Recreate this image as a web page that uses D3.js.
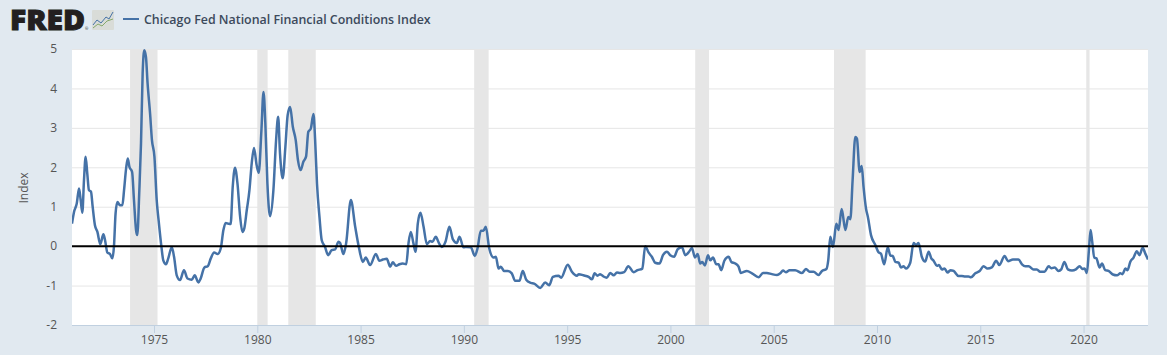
<!DOCTYPE html>
<html>
<head>
<meta charset="utf-8">
<script src="https://cdn.jsdelivr.net/npm/d3@7"></script>
<style>
  html, body { margin: 0; padding: 0; background: #e1e9f0; }
  svg { display: block; }
  text { font-family: "Open Sans", sans-serif; }
  .chart_label { font-size: 12px; fill: #555; }
</style>
</head>
<body>
<div id="chart"></div>
<script>
const seriesName = "Chicago Fed National Financial Conditions Index";
const yAxisLabel = "Index";
const yTicks = [-2, -1, 0, 1, 2, 3, 4, 5];
const xTicks = [1975, 1980, 1985, 1990, 1995, 2000, 2005, 2010, 2015, 2020];

// decimal years
const recessions = [
  [1973.84, 1975.17], [1980.0, 1980.5], [1981.5, 1982.83], [1990.5, 1991.2],
  [2001.2, 2001.87], [2007.92, 2009.45], [2020.13, 2020.29]
];

const years = [
  1971.03,1971.13,1971.26,1971.37,1971.45,1971.53,1971.61,1971.69,1971.77,1971.85,1971.95,
  1972.03,1972.14,1972.26,1972.40,1972.55,1972.63,1972.74,1972.87,1972.98,
  1973.06,1973.14,1973.23,1973.35,1973.47,1973.55,1973.65,1973.73,1973.81,1973.94,
  1974.03,1974.13,1974.19,1974.29,1974.37,1974.45,1974.53,1974.61,1974.69,1974.81,1974.90,
  1975.02,1975.13,1975.23,1975.36,1975.45,1975.58,1975.69,1975.86,1975.97,
  1976.10,1976.26,1976.45,1976.62,1976.83,1976.97,
  1977.15,1977.26,1977.44,1977.60,1977.75,1977.91,
  1978.08,1978.23,1978.36,1978.47,1978.60,1978.71,1978.81,1978.92,
  1979.04,1979.17,1979.28,1979.37,1979.49,1979.62,1979.73,1979.84,1979.97,
  1980.07,1980.20,1980.30,1980.39,1980.49,1980.62,1980.78,1980.91,
  1981.01,1981.10,1981.23,1981.36,1981.47,1981.59,1981.72,1981.86,1981.97,
  1982.10,1982.23,1982.36,1982.47,1982.59,1982.72,1982.80,1982.89,
  1983.01,1983.12,1983.28,1983.43,1983.60,1983.77,1983.93,
  1984.01,1984.17,1984.30,1984.53,1984.74,1984.93,
  1985.11,1985.25,1985.46,1985.74,1985.91,
  1986.08,1986.27,1986.43,1986.56,1986.72,1986.88,
  1987.04,1987.21,1987.32,1987.43,1987.56,1987.66,1987.77,1987.90,
  1988.05,1988.21,1988.37,1988.48,1988.64,1988.80,1988.93,
  1989.11,1989.30,1989.47,1989.66,1989.79,1989.98,
  1990.14,1990.34,1990.53,1990.66,1990.82,1990.95,
  1991.06,1991.23,1991.44,1991.55,1991.68,1991.79,1991.95,
  1992.13,1992.32,1992.48,1992.69,1992.85,
  1993.02,1993.24,1993.40,1993.70,1993.94,
  1994.13,1994.31,1994.58,1994.71,
  1995.03,1995.23,1995.47,1995.57,1995.79,
  1996.04,1996.20,1996.33,1996.47,1996.60,1996.76,1996.92,
  1997.09,1997.25,1997.41,1997.57,1997.76,1997.96,
  1998.22,1998.41,1998.64,1998.78,1998.94,
  1999.10,1999.26,1999.47,1999.64,1999.83,1999.99,
  2000.18,2000.35,2000.56,2000.72,2000.88,
  2001.04,2001.19,2001.32,2001.44,2001.54,2001.67,2001.82,2001.93,
  2002.06,2002.22,2002.33,2002.46,2002.61,2002.82,2002.95,
  2003.14,2003.30,2003.41,2003.70,2003.95,
  2004.27,2004.48,2004.67,2004.91,
  2005.16,2005.32,2005.45,2005.59,2005.77,
  2006.04,2006.37,2006.56,2006.74,2006.93,
  2007.17,2007.34,2007.55,2007.64,2007.74,2007.87,
  2008.03,2008.14,2008.29,2008.47,2008.61,2008.71,2008.82,2008.95,
  2009.03,2009.16,2009.26,2009.35,2009.47,2009.56,2009.71,2009.92,
  2010.08,2010.19,2010.35,2010.52,2010.65,2010.76,2010.89,
  2011.05,2011.16,2011.29,2011.40,2011.61,2011.77,2011.90,
  2012.01,2012.17,2012.33,2012.50,2012.63,2012.74,2012.90,
  2013.00,2013.14,2013.27,2013.42,2013.55,2013.71,2013.95,
  2014.11,2014.27,2014.43,2014.55,2014.76,2014.97,
  2015.16,2015.35,2015.56,2015.77,2015.92,
  2016.18,2016.34,2016.58,2016.85,
  2017.02,2017.18,2017.34,2017.58,2017.74,2017.90,
  2018.11,2018.31,2018.44,2018.60,2018.79,2018.92,
  2019.07,2019.24,2019.44,2019.63,2019.81,2019.95,
  2020.05,2020.16,2020.26,2020.34,2020.42,2020.52,2020.62,2020.78,2020.89,
  2021.05,2021.21,2021.42,2021.62,2021.78,2021.89,
  2022.02,2022.13,2022.26,2022.42,2022.58,2022.71,2022.86,2022.99,
  2023.12
];

const values = [
  .57,.87,1.08,1.46,1.17,.85,1.67,2.27,1.84,1.42,1.38,
  1.0,.53,.36,.05,.3,.15,-.16,-.2,-.31,
  -.02,.83,1.12,1.04,1.04,1.42,1.97,2.22,2.01,1.88,
  1.17,.41,.28,1.42,2.6,4.38,4.97,4.8,4.12,3.36,2.69,
  2.27,1.17,.62,-.02,-.36,-.46,-.31,-.03,-.27,
  -.74,-.86,-.61,-.82,-.85,-.74,
  -.92,-.82,-.54,-.51,-.31,-.16,
  -.2,-.06,.41,.59,.57,.56,1.5,1.99,
  1.59,.74,.36,.45,.91,1.42,2.1,2.49,2.05,
  1.86,2.94,3.91,3.11,1.59,.76,1.42,2.69,
  3.28,2.35,1.72,2.52,3.32,3.53,3.03,2.69,2.18,
  1.93,2.14,2.27,2.9,2.98,3.35,2.69,1.59,
  .74,.15,-.02,-.23,-.1,-.08,.11,
  .08,-.2,.07,1.17,.49,-.06,
  -.4,-.29,-.48,-.2,-.37,
  -.34,-.32,-.52,-.41,-.5,-.46,
  -.44,-.46,.07,.36,.07,-.14,.57,.85,
  .49,.05,.13,.11,.24,.07,-.02,
  .11,.49,.17,.08,.24,-.03,
  -.02,-.03,-.25,-.06,.39,.39,
  .49,-.06,-.29,-.27,-.57,-.52,-.63,
  -.63,-.69,-.88,-.88,-.63,
  -.85,-.93,-.95,-1.06,-.92,
  -.99,-.78,-.75,-.8,
  -.47,-.65,-.75,-.71,-.74,
  -.78,-.84,-.69,-.75,-.71,-.77,-.8,
  -.68,-.74,-.67,-.68,-.66,-.51,
  -.66,-.61,-.57,0,-.16,
  -.27,-.42,-.44,-.23,-.14,-.23,
  -.27,-.08,-.03,-.23,-.16,
  -.05,-.29,-.2,-.44,-.4,-.49,-.23,-.36,
  -.29,-.46,-.46,-.61,-.37,-.27,-.4,
  -.44,-.52,-.68,-.63,-.69,
  -.79,-.68,-.68,-.71,
  -.73,-.69,-.62,-.66,-.61,
  -.61,-.68,-.58,-.65,-.65,
  -.73,-.63,-.58,-.36,.24,-.02,
  .57,.41,.94,.41,.74,.68,1.67,2.77,
  2.73,1.88,2.03,1.5,.95,.74,.28,.03,
  -.16,-.19,-.46,-.03,-.24,-.25,-.4,
  -.42,-.54,-.51,-.57,-.42,.08,.03,
  .08,-.27,-.39,-.14,-.31,-.37,-.5,
  -.48,-.59,-.57,-.67,-.61,-.63,-.76,
  -.76,-.77,-.77,-.79,-.69,-.63,
  -.51,-.57,-.54,-.37,-.48,
  -.25,-.38,-.34,-.34,
  -.46,-.51,-.51,-.59,-.59,-.65,
  -.65,-.51,-.56,-.54,-.63,-.59,
  -.4,-.59,-.62,-.59,-.51,-.58,
  -.57,-.68,-.1,.41,.11,-.29,-.31,-.54,-.44,
  -.61,-.63,-.72,-.74,-.69,-.71,
  -.57,-.61,-.4,-.29,-.13,-.23,-.04,-.19,
  -.34
];

const width = 1167, height = 355;
const plot = { left: 72, right: 1148, top: 49, bottom: 325 };

const svg = d3.select("#chart").append("svg")
  .attr("width", width)
  .attr("height", height);

svg.append("rect")
  .attr("width", width)
  .attr("height", height)
  .attr("fill", "#e1e9f0");

const x = d3.scaleLinear().domain([1971.03, 2023.12]).range([plot.left, plot.right]);
const y = d3.scaleLinear().domain([-2, 5]).range([plot.bottom, plot.top]);

svg.append("rect")
  .attr("x", plot.left)
  .attr("y", plot.top)
  .attr("width", plot.right - plot.left)
  .attr("height", plot.bottom - plot.top)
  .attr("fill", "#fff");

svg.append("defs").append("clipPath").attr("id", "plot-clip")
  .append("rect")
  .attr("x", plot.left)
  .attr("y", plot.top - 1)
  .attr("width", plot.right - plot.left)
  .attr("height", plot.bottom - plot.top + 1);

// gridlines and y labels
const yAxis = svg.append("g")
  .attr("transform", "translate(" + plot.left + ",0)")
  .call(d3.axisRight(y).tickValues(yTicks).tickSize(plot.right - plot.left).tickFormat(d3.format("d")));
yAxis.select(".domain").remove();
yAxis.selectAll(".tick line").attr("stroke", "#e6e6e6");
yAxis.selectAll(".tick text")
  .attr("class", "chart_label")
  .attr("x", -15)
  .attr("dy", "0.32em")
  .attr("text-anchor", "end")
  .text(function(d) { return d < 0 ? "-" + Math.abs(d) : d; });

// recession bands go over the gridlines
svg.append("g").selectAll("rect")
  .data(recessions)
  .enter().append("rect")
    .attr("x", function(d) { return x(d[0]); })
    .attr("y", plot.top)
    .attr("width", function(d) { return x(d[1]) - x(d[0]); })
    .attr("height", plot.bottom - plot.top)
    .attr("fill", "#e6e6e6");

const xAxis = svg.append("g")
  .attr("transform", "translate(0," + plot.bottom + ")")
  .call(d3.axisBottom(x).tickValues(xTicks).tickSize(8).tickPadding(2).tickFormat(d3.format("d")));
xAxis.select(".domain").attr("stroke", "#c0d0e0").attr("d", "M" + plot.left + ",0.5H" + plot.right);
xAxis.selectAll(".tick line").attr("stroke", "#c0d0e0");
xAxis.selectAll(".tick text").attr("class", "chart_label");

// series
const line = d3.line()
  .x(function(d, i) { return x(years[i]); })
  .y(function(d) { return y(d); })
  .curve(d3.curveMonotoneX);

svg.append("path")
  .attr("clip-path", "url(#plot-clip)")
  .attr("fill", "none")
  .attr("stroke", "#4572a7")
  .attr("stroke-width", 2.5)
  .attr("stroke-linejoin", "round")
  .attr("d", line(values));

// zero reference line sits on top of the series
svg.append("line")
  .attr("x1", plot.left)
  .attr("x2", plot.right)
  .attr("y1", y(0))
  .attr("y2", y(0))
  .attr("stroke", "#000")
  .attr("stroke-width", 2);

svg.append("text")
  .attr("class", "chart_label")
  .attr("transform", "translate(28," + ((plot.top + plot.bottom) / 2 + 1) + ") rotate(-90)")
  .attr("text-anchor", "middle")
  .text(yAxisLabel);

// header: logo and legend
const logo = svg.append("g");
logo.append("text")
  .attr("x", 10)
  .attr("y", 29.5)
  .attr("font-size", 29)
  .attr("font-weight", 800)
  .attr("textLength", 75)
  .attr("lengthAdjust", "spacingAndGlyphs")
  .attr("fill", "#231f20")
  .attr("stroke", "#231f20")
  .attr("stroke-width", 1)
  .text("FRED");
logo.append("text")
  .attr("x", 85)
  .attr("y", 30)
  .attr("font-size", 4)
  .attr("fill", "#231f20")
  .text("®");
logo.append("rect")
  .attr("x", 92)
  .attr("y", 10)
  .attr("width", 22)
  .attr("height", 20)
  .attr("rx", 1)
  .attr("fill", "#d9dcd8");
logo.append("path")
  .attr("d", "M93,25 L97,20 L101,23 L106,17 L109,19 L113,12")
  .attr("fill", "none")
  .attr("stroke", "#4572a7");
logo.append("path")
  .attr("d", "M93,28 L98,24 L102,26 L107,21 L113,19")
  .attr("fill", "none")
  .attr("stroke", "#86a96b");

svg.append("line")
  .attr("x1", 123)
  .attr("x2", 139)
  .attr("y1", 19)
  .attr("y2", 19)
  .attr("stroke", "#4572a7")
  .attr("stroke-width", 2);

svg.append("text")
  .attr("x", 144)
  .attr("y", 24)
  .attr("font-size", 12.4)
  .attr("font-weight", 600)
  .attr("fill", "#3c4a5c")
  .text(seriesName);
</script>
</body>
</html>
